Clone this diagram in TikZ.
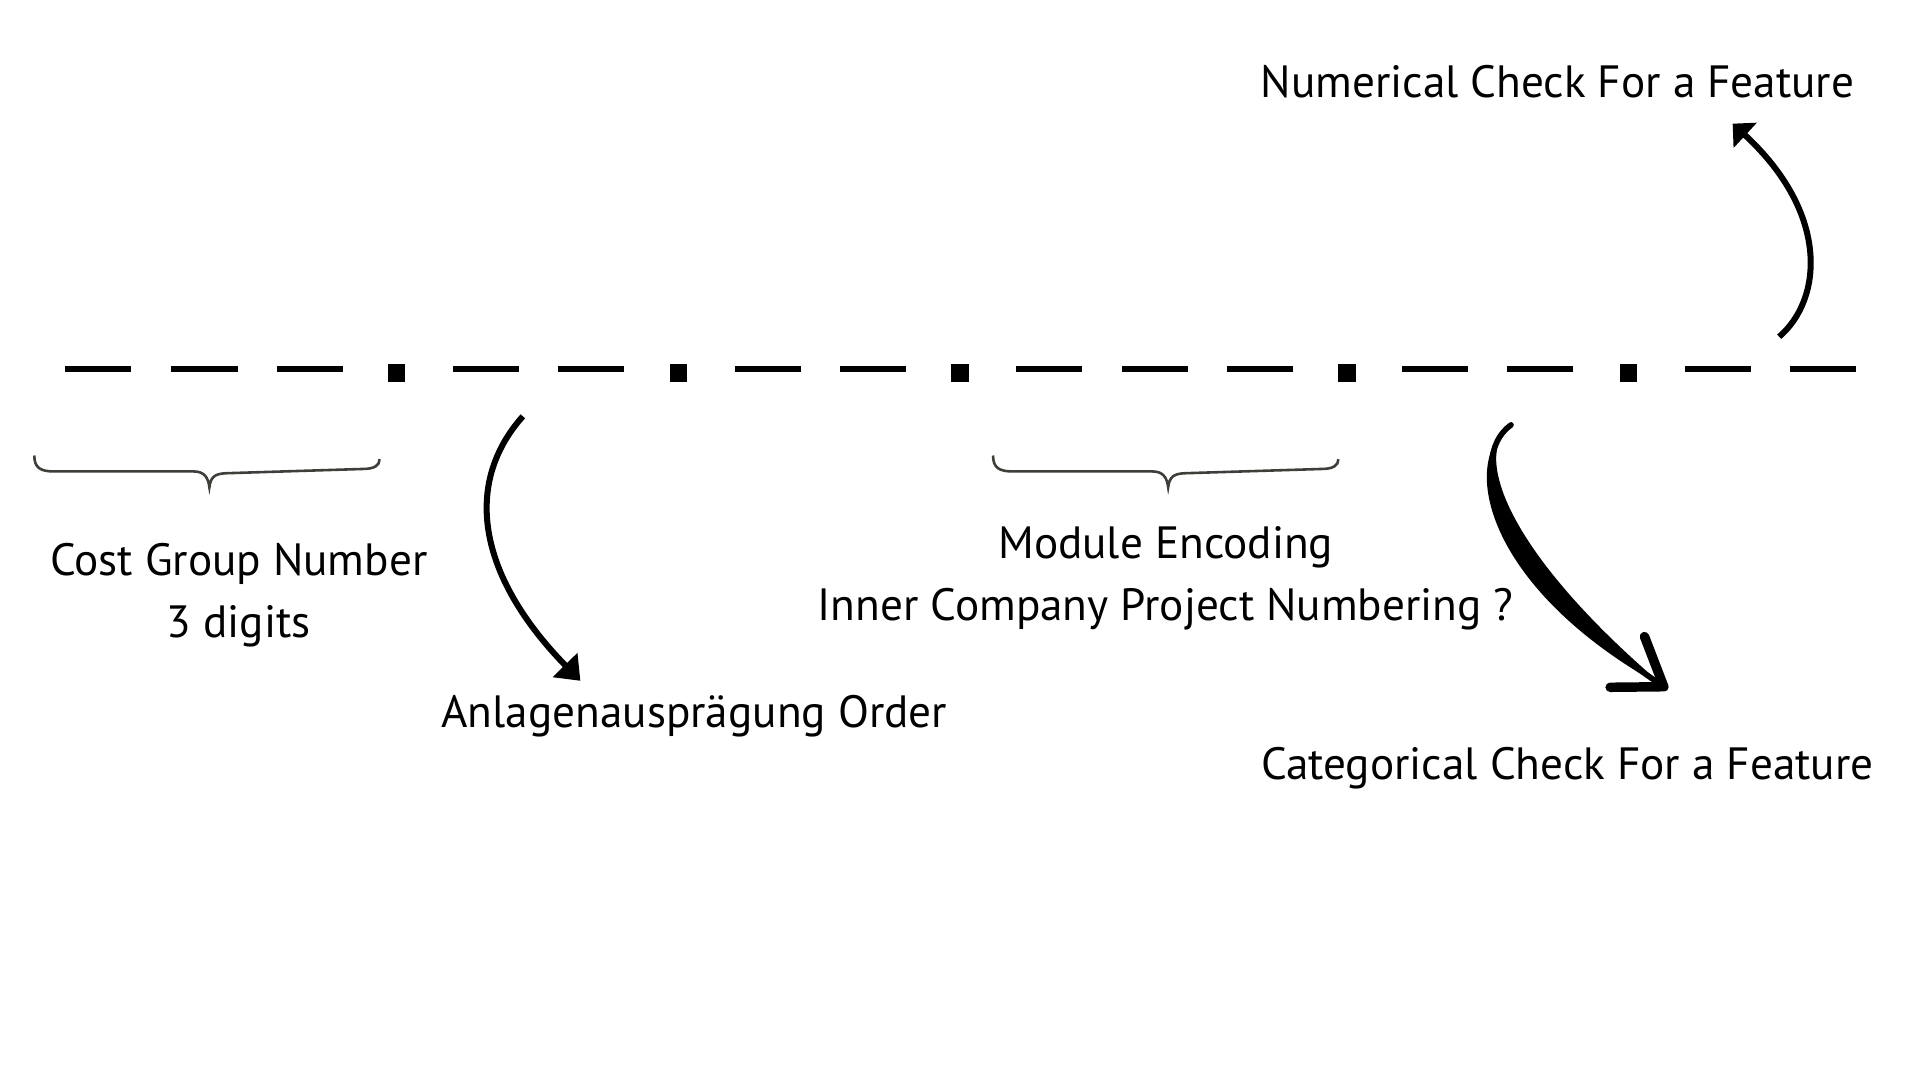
\documentclass[tikz,border=0pt]{standalone}
\usepackage{fontspec}
\setmainfont{PT Sans}
\usepackage{xcolor}
\usetikzlibrary{arrows.meta}
\definecolor{braceGray}{HTML}{3C3F3A}

\begin{document}
\begin{tikzpicture}[x=0.01cm,y=-0.01cm,
  every node/.style={font=\fontsize{10.5}{14.4}\selectfont, inner sep=0pt},
  seg/.style={line width=1.25pt},
  brace/.style={draw=braceGray, line width=0.6pt},
  thinarrow/.style={line width=1.4pt, -{Triangle[length=#1]}},
  heavyarrow/.style={line width=1.3pt, line cap=round,
    -{Straight Barb[length=0.36cm, width=0.5cm, line width=2.2pt, round]}}]
  \useasboundingbox (0,0) rectangle (1568,882);

  % the code pattern
  \foreach \x in {53,140,226,370,456,600,686,830,916,1002,1145,1231,1376,1462}
    \draw[seg] (\x,301.5) -- ++(54,0);
  \foreach \x in {324,554,784,1100,1330}
    \fill (\x-7,297) rectangle ++(14,15);

  % braces under the groups
  \foreach \bx in {28,811}
    \draw[brace] (\bx,372) .. controls (\bx,382) and (\bx+5,385) .. (\bx+16,385)
      -- (\bx+130,385) .. controls (\bx+139,385) and (\bx+142,390) .. (\bx+143,398)
      .. controls (\bx+144,390) and (\bx+147,387) .. (\bx+156,386.5)
      -- (\bx+268,383) .. controls (\bx+278,383) and (\bx+282,380) .. (\bx+282,375);

  \node[align=center] (cost) at (195,486) {Cost Group Number\\3 digits};
  \node[align=center] (module) at (952,472) {Module Encoding\\Inner Company Project Numbering ?};
  \node[anchor=base] (order) at (567,594) {Anlagenausprägung Order};
  \node[anchor=base] (categ) at (1280,637) {Categorical Check For a Feature};
  \node[anchor=base] (numer) at (1272,80) {Numerical Check For a Feature};

  \coordinate (a1) at (427,340);
  \coordinate (a2) at (474,556);
  \coordinate (b1) at (1234,347);
  \coordinate (b2) at (1362,563);
  \coordinate (c1) at (1453,275);
  \coordinate (c2) at (1415,101);

  \draw[thinarrow={0.18cm 0 2}] (a1) .. controls (378,395) and (390,470) .. (a2);
  \fill (b1) .. controls (1190,377) and (1214,483) .. (b2)
    .. controls (1236,457) and (1200,373) .. (b1);
  \draw[heavyarrow] (b1) .. controls (1195,375) and (1225,470) .. (b2);
  \draw[thinarrow={0.14cm 0 2}] (c1) .. controls (1488,245) and (1495,175) .. (c2);
%\draw (1234,347) -- (1362,563);
\end{tikzpicture}
\end{document}
